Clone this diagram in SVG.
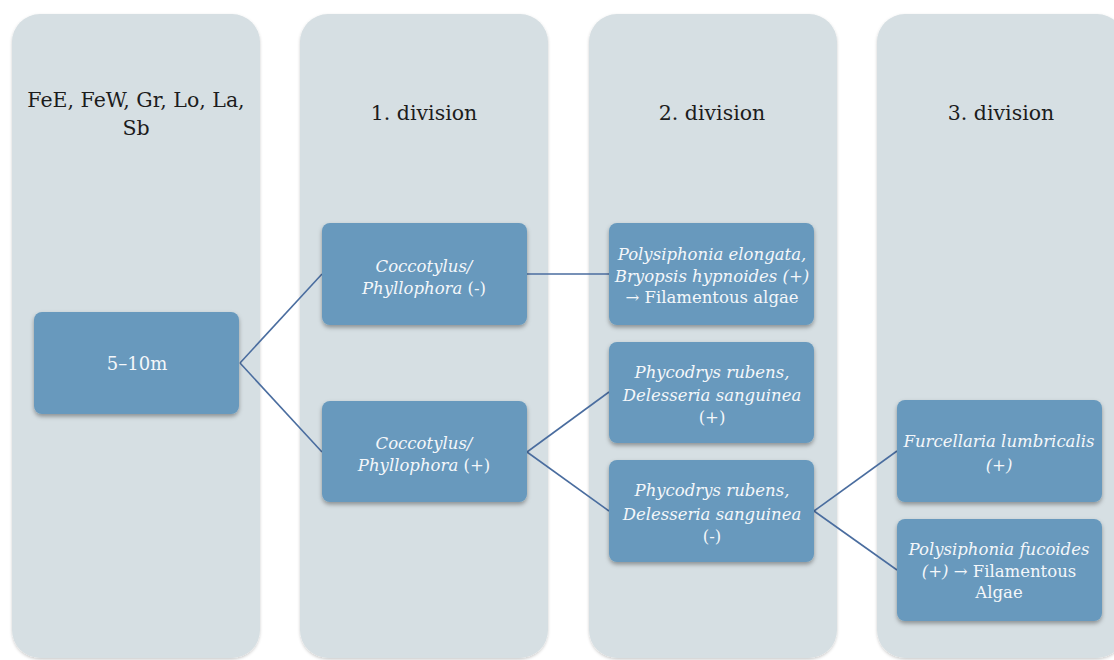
<svg xmlns="http://www.w3.org/2000/svg" width="1114" height="660" viewBox="0 0 1114 660">
<defs>
<filter id="sh" x="-10%" y="-10%" width="120%" height="130%">
<feDropShadow dx="0" dy="2.5" stdDeviation="2" flood-color="#000" flood-opacity="0.35"/>
</filter>
<filter id="shc" x="-10%" y="-5%" width="120%" height="110%">
<feDropShadow dx="0" dy="1.5" stdDeviation="1.5" flood-color="#000" flood-opacity="0.2"/>
</filter>
</defs>
<style>
.col{fill:#d6dfe3;filter:url(#shc)}
.hd{font-family:"DejaVu Serif","Liberation Serif",serif;font-size:20.5px;fill:#1c1c1c;text-anchor:middle}
.nd{fill:#6799bd;filter:url(#sh)}
.tx{font-family:"DejaVu Serif","Liberation Serif",serif;font-size:16.5px;fill:#f4f7fa;text-anchor:middle}
.it{font-style:italic}
.cn{stroke:#4a6d9f;stroke-width:1.6;fill:none}
</style>
<rect width="1114" height="660" fill="#ffffff"/>
<g id="columns">
<rect class="col" x="12" y="14" width="248" height="644" rx="28"/>
<rect class="col" x="300" y="14" width="248" height="644" rx="28"/>
<rect class="col" x="589" y="14" width="248" height="644" rx="28"/>
<rect class="col" x="877" y="14" width="248" height="644" rx="28"/>
<text class="hd" x="136" y="107">FeE, FeW, Gr, Lo, La,</text>
<text class="hd" x="136" y="135">Sb</text>
<text class="hd" x="424" y="120">1. division</text>
<text class="hd" x="712" y="120">2. division</text>
<text class="hd" x="1001" y="120">3. division</text>
</g>
<g id="connectors">
<path class="cn" d="M240 363 L322 274"/>
<path class="cn" d="M240 363 L322 452"/>
<path class="cn" d="M527 274 L609 274"/>
<path class="cn" d="M527 452 L609 392"/>
<path class="cn" d="M527 452 L609 511"/>
<path class="cn" d="M814 511 L897 451"/>
<path class="cn" d="M814 511 L897 570"/>
</g>
<g id="n0">
<rect class="nd" x="34" y="312" width="205" height="102" rx="8"/>
<text class="tx" x="137" y="370" style="font-size:18px">5–10m</text>
</g>
<g id="n1">
<rect class="nd" x="322" y="223" width="205" height="102" rx="8"/>
<text class="tx" x="424" y="272"><tspan class="it">Coccotylus/</tspan></text>
<text class="tx" x="424" y="294"><tspan class="it">Phyllophora</tspan> (-)</text>
</g>
<g id="n2">
<rect class="nd" x="322" y="401" width="205" height="101" rx="8"/>
<text class="tx" x="424" y="449"><tspan class="it">Coccotylus/</tspan></text>
<text class="tx" x="424" y="471"><tspan class="it">Phyllophora</tspan> (+)</text>
</g>
<g id="n3">
<rect class="nd" x="609" y="223" width="205" height="102" rx="8"/>
<text class="tx it" x="712" y="260">Polysiphonia elongata,</text>
<text class="tx it" x="712" y="282">Bryopsis hypnoides (+)</text>
<text class="tx" x="712" y="303">→ Filamentous algae</text>
</g>
<g id="n4">
<rect class="nd" x="609" y="342" width="205" height="101" rx="8"/>
<text class="tx it" x="712" y="378">Phycodrys rubens,</text>
<text class="tx it" x="712" y="401">Delesseria sanguinea</text>
<text class="tx" x="712" y="423">(+)</text>
</g>
<g id="n5">
<rect class="nd" x="609" y="460" width="205" height="102" rx="8"/>
<text class="tx it" x="712" y="496">Phycodrys rubens,</text>
<text class="tx it" x="712" y="520">Delesseria sanguinea</text>
<text class="tx" x="712" y="542">(-)</text>
</g>
<g id="n6">
<rect class="nd" x="897" y="400" width="205" height="102" rx="8"/>
<text class="tx it" x="999" y="447">Furcellaria lumbricalis</text>
<text class="tx it" x="999" y="471">(+)</text>
</g>
<g id="n7">
<rect class="nd" x="897" y="519" width="205" height="102" rx="8"/>
<text class="tx it" x="999" y="555">Polysiphonia fucoides</text>
<text class="tx" x="999" y="577"><tspan class="it">(+)</tspan> → Filamentous</text>
<text class="tx" x="999" y="598">Algae</text>
</g>
</svg>
